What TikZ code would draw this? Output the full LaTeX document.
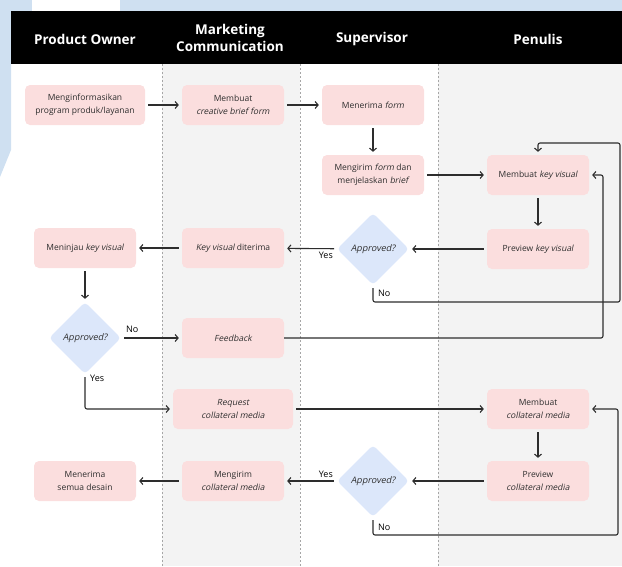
\documentclass[tikz,border=0pt]{standalone}
\usepackage{fontspec}
\setmainfont{Open Sans}[ItalicFont={Open Sans}, ItalicFeatures={FakeSlant=0.2}]
\usetikzlibrary{shapes.geometric,arrows.meta}
\definecolor{boxpink}{RGB}{251,222,222}
\definecolor{diablue}{RGB}{220,231,250}
\definecolor{lanegray}{RGB}{243,243,243}
\definecolor{decoblue}{RGB}{207,224,241}
\definecolor{ink}{RGB}{45,45,45}
\begin{document}
\begin{tikzpicture}[x=1pt,y=-1pt]
  \tikzset{task/.style={draw=none, fill=boxpink, rounded corners=5pt, minimum width=102pt, minimum height=40pt, align=center, text=ink, font=\fontsize{8.5}{13.5}\selectfont, inner sep=2pt},
    wide/.style={task, minimum width=120pt},
    decision/.style={diamond, fill=diablue, rounded corners=4pt, minimum width=72pt, minimum height=72pt, inner sep=0pt, text=ink, font=\fontsize{9}{11}\selectfont\itshape},
    lane/.style={font=\fontsize{13.5}{17}\selectfont\bfseries, text=white, align=center},
    flow/.style={draw=ink, line width=1.1pt, -{Straight Barb[length=3pt,width=7pt]}, shorten >=3pt, shorten <=3pt},
    loop/.style={flow, rounded corners=2pt},
    tag/.style={font=\fontsize{9}{10}\selectfont, text=black, inner sep=1pt}}
  \useasboundingbox (0,0) rectangle (622,566);

  % background and swimlanes
  \fill[decoblue] (0,0) rectangle (32,11);
  \fill[decoblue] (120,0) rectangle (622,11);
  \fill[decoblue] (0,0) -- (11,0) -- (11,150) -- (0,177) -- cycle;
  \fill[lanegray] (162,64) rectangle (300,566);
  \fill[lanegray] (438,64) rectangle (622,566);
  \foreach \x in {162,300,438}
    \draw[gray!70, line width=0.5pt, dash pattern=on 2pt off 2pt] (\x,64) -- (\x,566);
  \fill[black] (11,11) rectangle (622,64);
  \node[lane] (h_po) at (85,39) {Product Owner};
  \node[lane] (h_mc) at (230,38) {Marketing\\Communication};
  \node[lane] (h_sv) at (372,39) {Supervisor};
  \node[lane] (h_pn) at (538,39) {Penulis};

  % steps
  \node[wide] at (85,105) (po_1) {Menginformasikan\\program produk/layanan};
  \node[task] at (233,105) (mc_1) {Membuat\\\textit{creative brief form}};
  \node[task] at (373,105) (sv_1) {Menerima \textit{form}};
  \node[task] at (373,175) (sv_2) {Mengirim \textit{form} dan\\menjelaskan \textit{brief}};
  \node[task] at (538,175) (pn_1) {Membuat \textit{key visual}};
  \node[task] at (538,249) (pn_2) {Preview \textit{key visual}};
  \node[decision] at (373,249) (sv_d1) {Approved?};
  \node[task] at (233,248) (mc_2) {\textit{Key visual} diterima};
  \node[task] at (85,248) (po_2) {Meninjau \textit{key visual}};
  \node[decision] at (85,338) (po_d) {Approved?};
  \node[task] at (233,338) (mc_3) {\textit{Feedback}};
  \node[wide] at (233,409) (mc_4) {\textit{Request}\\\textit{collateral media}};
  \node[task] at (538,409) (pn_3) {Membuat\\\textit{collateral media}};
  \node[task] at (538,481) (pn_4) {Preview\\\textit{collateral media}};
  \node[decision] at (373,481) (sv_d2) {Approved?};
  \node[task] at (233,481) (mc_5) {Mengirim\\\textit{collateral media}};
  \node[task] at (85,481) (po_3) {Menerima\\semua desain};

  \coordinate (r_1) at (620,302);
  \coordinate (r_2) at (620,143);
  \coordinate (r_3) at (603,338);
  \coordinate (r_4) at (618,535);

  % connectors
  \draw[flow] (po_1) -- (mc_1);
  \draw[flow] (mc_1) -- (sv_1);
  \draw[flow] (sv_1) -- (sv_2);
  \draw[flow] (sv_2) -- (pn_1);
  \draw[flow] (pn_1) -- (pn_2);
  \draw[flow] (pn_2) -- (sv_d1);
  \draw[flow] (sv_d1) -- (mc_2);
  \draw[flow] (mc_2) -- (po_2);
  \draw[flow] (po_2) -- (po_d);
  \draw[flow] (po_d) -- (mc_3);
  \draw[loop] (sv_d1.south) |- (r_1) -- (r_2) -| (pn_1.north);
  \draw[loop, shorten <=0pt] (mc_3.east) -- (r_3) |- (pn_1.east);
  \draw[loop] (po_d.south) |- (mc_4.west);
  \draw[flow] (mc_4) -- (pn_3);
  \draw[flow] (pn_3) -- (pn_4);
  \draw[flow] (pn_4) -- (sv_d2);
  \draw[flow] (sv_d2) -- (mc_5);
  \draw[flow] (mc_5) -- (po_3);
  \draw[loop] (sv_d2.south) |- (r_4) |- (pn_3.east);

  % branch labels
  \node[tag, anchor=north east] at (334,251) (t_1) {Yes};
  \node[tag, anchor=west] at (377,293) (t_2) {No};
  \node[tag, anchor=south west] at (125,334) (t_3) {No};
  \node[tag, anchor=west] at (89,378) (t_4) {Yes};
  \node[tag, anchor=south east] at (334,479) (t_5) {Yes};
  \node[tag, anchor=west] at (377,527) (t_6) {No};
\end{tikzpicture}
\end{document}
